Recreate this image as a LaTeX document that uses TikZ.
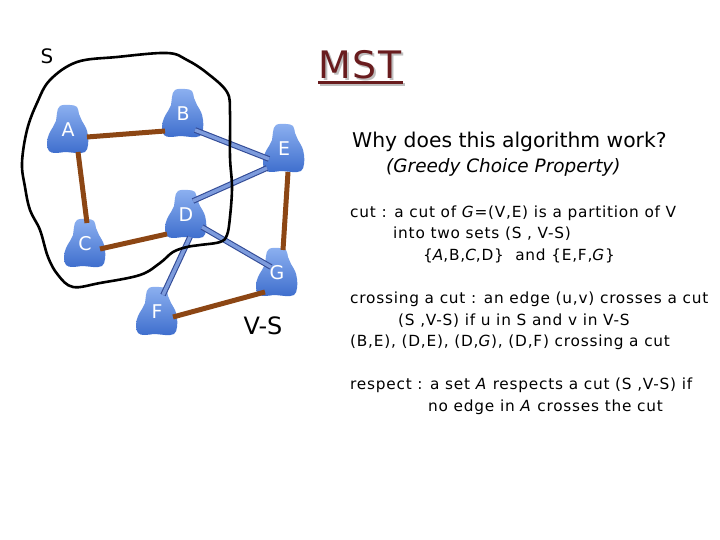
\documentclass[tikz,border=0pt]{standalone}
\usepackage{fontspec}
\setmainfont{DejaVu Sans}[ItalicFont={DejaVu Sans Oblique}]
\newfontfamily\comic{DejaVu Sans}[LetterSpace=5,ItalicFont={DejaVu Sans Oblique}]
\pgfdeclarelayer{blobs}
\pgfsetlayers{blobs,main}
\definecolor{edgebrown}{RGB}{140,70,20}
\definecolor{edgeblue}{RGB}{125,155,220}
\definecolor{edgeblueline}{RGB}{50,75,150}
\definecolor{blobtop}{RGB}{140,176,240}
\definecolor{blobbot}{RGB}{62,110,205}
\definecolor{mstred}{RGB}{105,28,30}
\newcommand\blobat[1]{\shade[top color=blobtop,bottom color=blobbot,shift={(#1.center)}]
  plot[smooth cycle,tension=0.7] coordinates {(-8,-24) (2,-25) (9,-23) (11,-16) (14,-9) (18,-2) (20,6) (20,15) (17,22) (8,23) (-2,22) (-12,23) (-19,21) (-21,13) (-19,4) (-15,-3) (-12,-9) (-11,-17)};}
\newcommand\shadowedtitle{\rlap{\hspace{2bp}\raisebox{-2bp}{\color{black!25}MST}}MST}
\tikzset{
  vtx/.style={minimum width=40bp, minimum height=47bp, inner sep=0pt, text=white, font=\fontsize{19}{19}\selectfont},
  treeedge/.style={draw=edgebrown, line width=5bp},
  cutedge/.style={draw=edgeblueline, double=edgeblue, double distance=3.5bp, line width=1.1bp},
  setlabel/.style={inner sep=0pt, text=black},
  titletxt/.style={anchor=base west, inner sep=0pt, font=\fontsize{20.4}{22}\selectfont},
  subtxt/.style={anchor=base west, inner sep=0pt, font=\fontsize{18.5}{20}\selectfont\itshape},
  bodytxt/.style={anchor=base west, inner sep=0pt, font=\comic\fontsize{15.4}{18}\selectfont},
  mstfont/.style={inner sep=0pt, anchor=base west, text=mstred, font=\comic\fontsize{38}{40}\selectfont}
}
\begin{document}
\begin{tikzpicture}[x=1bp,y=-1bp]
\useasboundingbox (0,0) rectangle (720,540);
% vertices
\node[vtx] (A) at (68,130) {A};
\node[vtx] (B) at (183,114) {B};
\node[vtx] (E) at (284,149) {E};
\node[vtx] (D) at (186,215) {D};
\node[vtx] (C) at (85,244) {C};
\node[vtx] (G) at (277,273) {G};
\node[vtx] (F) at (157,312) {F};
\begin{pgfonlayer}{blobs}
\foreach \n in {A,B,C,D,E,F,G}{\blobat{\n}}
\end{pgfonlayer}
% tree edges
\draw[treeedge] ([shift={(19,7)}]A.center) -- ([shift={(-18,17)}]B.center);
\draw[treeedge] ([shift={(10,22)}]A.center) -- ([shift={(2,-21)}]C.center);
\draw[treeedge] ([shift={(15,5)}]C.center) -- ([shift={(-19,19)}]D.center);
\draw[treeedge] ([shift={(4,23)}]E.center) -- ([shift={(6,-23)}]G.center);
\draw[treeedge] ([shift={(16,5)}]F.center) -- ([shift={(-12,19)}]G.center);
% crossing edges
\draw[cutedge] ([shift={(12,16)}]B.center) -- ([shift={(-15,10)}]E.center);
\draw[cutedge] ([shift={(7,-14)}]D.center) -- ([shift={(-17,19)}]E.center);
\draw[cutedge] ([shift={(16,12)}]D.center) -- ([shift={(-6,-6)}]G.center);
\draw[cutedge] ([shift={(4,22)}]D.center) -- ([shift={(6,-17)}]F.center);
% cut curve
\draw[line width=2.6bp, black] plot[smooth cycle, tension=0.6] coordinates {(77,62) (117,57) (167,53) (187,60) (207,73) (227,92) (230,113) (230,157) (232,187) (230,217) (227,235) (220,242) (200,245) (187,247) (173,252) (160,263) (140,275) (100,283) (73,287) (58,275) (48,257) (40,230) (30,210) (25,187) (22,163) (27,130) (37,103) (50,80)};
% set labels
\node[setlabel, font=\fontsize{20}{20}\selectfont] (S) at (47,56) {S};
\node[setlabel, font=\fontsize{24}{24}\selectfont] (VS) at (263,326) {V-S};
% MST title with shadow and underline
\node[mstfont] (mst) at (318,79) {\shadowedtitle};
\fill[black!25] (320,83) rectangle (405,86);
\fill[mstred] (318,81) rectangle (403,84);
% text
\node[titletxt] (t1) at (352,148) {Why does this algorithm work?};
\node[subtxt] (t2) at (386,173) {(Greedy Choice Property)};
\node[bodytxt] (t3) at (350,218) {cut : a cut of \textit{G}=(V,E) is a partition of V};
\node[bodytxt] (t4) at (393,239) {into two sets (S , V-S)};
\node[bodytxt] (t5) at (423,261) {\{\textit{A},B,\textit{C},D\}\ \ and \{E,F,\textit{G}\}};
\node[bodytxt] (t6) at (350,303) {crossing a cut : an edge (u,v) crosses a cut};
\node[bodytxt] (t7) at (398,325) {(S ,V-S) if u in S and v in V-S};
\node[bodytxt] (t8) at (350,346) {(B,E), (D,E), (D,\textit{G}), (D,F) crossing a cut};
\node[bodytxt] (t9) at (350,389) {respect : a set \textit{A} respects a cut (S ,V-S) if};
\node[bodytxt] (t10) at (428,411) {no edge in \textit{A} crosses the cut};
\end{tikzpicture}
\end{document}
